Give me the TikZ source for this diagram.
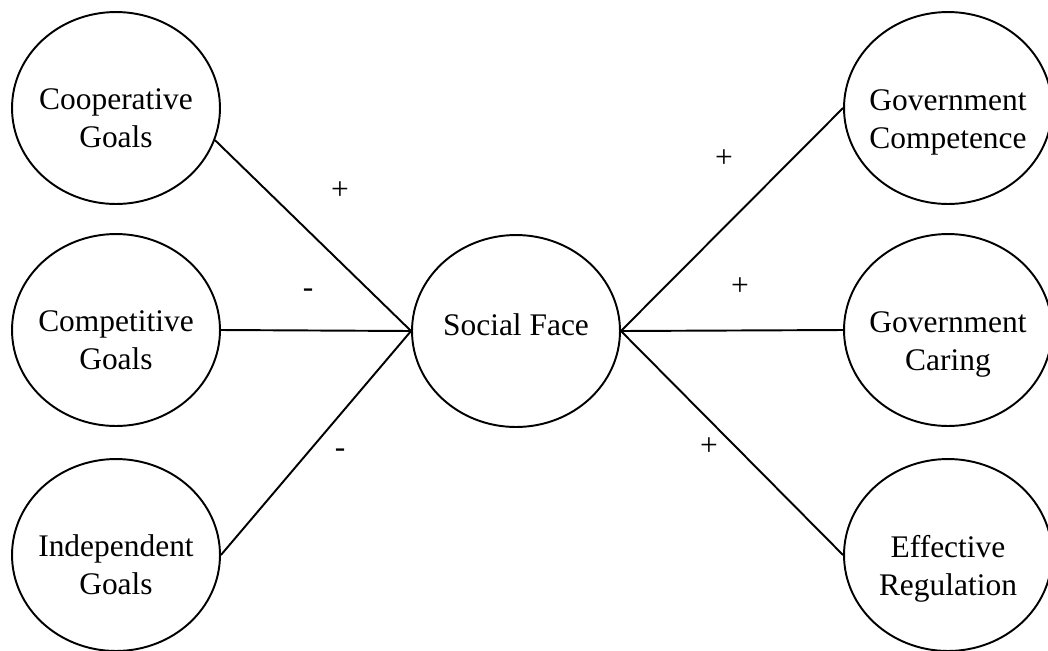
\documentclass[tikz,border=0pt]{standalone}
\usepackage{fontspec}
\setmainfont{Liberation Serif}
\usetikzlibrary{positioning}
\usetikzlibrary{shapes.geometric}

\begin{document}
\begin{tikzpicture}[
    x=0.02cm, y=-0.02cm,
    font=\fontsize{17.9}{21.6}\selectfont,
    var/.style={ellipse, draw=black, line width=1.1pt, minimum width=4.16cm, minimum height=3.84cm, inner sep=0pt},
    vtext/.style={align=center, inner sep=0pt},
    link/.style={line width=1.1pt},
    sign/.style={inner sep=0pt}
]
\useasboundingbox (0,0) rectangle (1048,650);

\node[var] (coop) at (116,108) {};
\node[var] (comp) at (116,330) {};
\node[var] (indep) at (116,555) {};
\node[var] (face) at (516,331) {};
\node[var] (compet) at (948,108) {};
\node[var] (caring) at (948,330) {};
\node[var] (regul) at (948,555) {};

\node[vtext] (coopt) at (116,118) {Cooperative\\Goals};
\node[vtext] (compt) at (116,340) {Competitive\\Goals};
\node[vtext] (indept) at (116,565) {Independent\\Goals};
\node[vtext] (facet) at (516,325) {Social Face};
\node[vtext] (compett) at (948,122) {Government\\Competence};
\node[vtext] (caringt) at (948,344) {Government\\Caring};
\node[vtext] (regult) at (948,569) {Effective\\Regulation};

\draw[link] (coop.-18) -- (face.west);
\draw[link] (comp.east) -- (face.west);
\draw[link] (indep.east) -- (face.west);
\draw[link] (face.east) -- (compet.west);
\draw[link] (face.east) -- (caring.west);
\draw[link] (face.east) -- (regul.west);

\node[sign] (s1) at (340,191) {+};
\node[sign] (s2) at (308,293) {-};
\node[sign] (s3) at (340,453) {-};
\node[sign] (s4) at (724,159) {+};
\node[sign] (s5) at (740,287) {+};
\node[sign] (s6) at (709,447) {+};

\end{tikzpicture}
\end{document}
